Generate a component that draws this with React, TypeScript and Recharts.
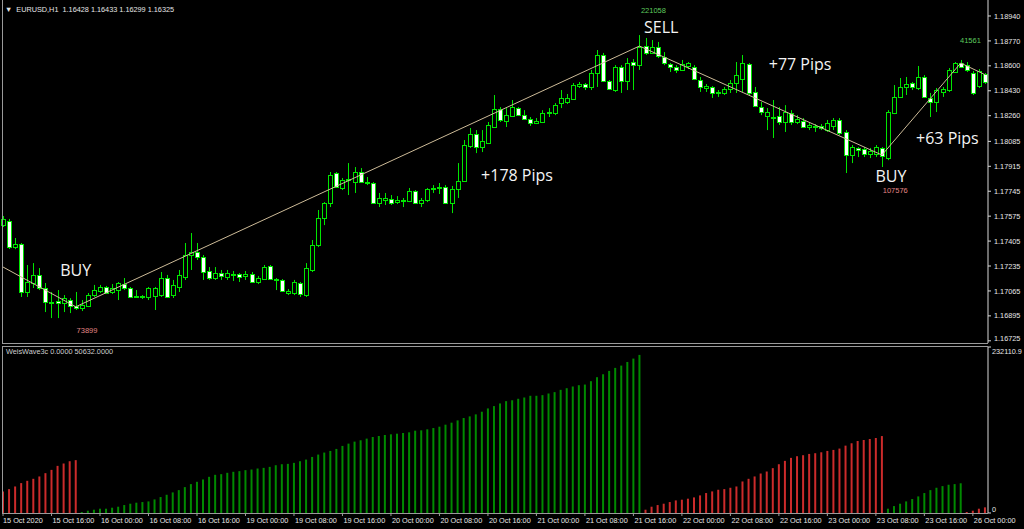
import React from "react";
import { ComposedChart, Bar, Line, XAxis, YAxis, ReferenceDot, Cell } from "recharts";

type OHLC = [number, number, number, number]; // open, high, low, close

// H1 candles, one array per trading day
const oct15: OHLC[] = [
  [1.17514, 1.17576, 1.17501, 1.17556], [1.17542, 1.17556, 1.17351, 1.17364], [1.17364, 1.17426, 1.1735, 1.17385],
  [1.17385, 1.17392, 1.17024, 1.17058], [1.17058, 1.17242, 1.17024, 1.17126], [1.17119, 1.17255, 1.17085, 1.17174],
  [1.17174, 1.17221, 1.17071, 1.17085], [1.17085, 1.17119, 1.16921, 1.16989], [1.16989, 1.17058, 1.1688, 1.16982],
  [1.16996, 1.17071, 1.1688, 1.16982], [1.16982, 1.17037, 1.16921, 1.17016], [1.17003, 1.17016, 1.16914, 1.16962],
  [1.16962, 1.17058, 1.16935, 1.16948], [1.16948, 1.17003, 1.16928, 1.16969], [1.16962, 1.17051, 1.16955, 1.17037],
  [1.17037, 1.17106, 1.17024, 1.17071],
];
const oct16: OHLC[] = [
  [1.17065, 1.17106, 1.17051, 1.17092], [1.17092, 1.17099, 1.17044, 1.17051], [1.17058, 1.17112, 1.17044, 1.17085],
  [1.17071, 1.17126, 1.17003, 1.17119], [1.17112, 1.17153, 1.17071, 1.17085], [1.17085, 1.17092, 1.17017, 1.17024],
  [1.1703, 1.17071, 1.17017, 1.17024], [1.17024, 1.17037, 1.1701, 1.1703], [1.17024, 1.17092, 1.17003, 1.17085],
  [1.1703, 1.17092, 1.16935, 1.17085], [1.17037, 1.17194, 1.17024, 1.17153], [1.17153, 1.17174, 1.17017, 1.17024],
  [1.17037, 1.1714, 1.17017, 1.17106], [1.17092, 1.17208, 1.17058, 1.17174], [1.1716, 1.17392, 1.1714, 1.1731],
  [1.1731, 1.1746, 1.17208, 1.1733], [1.1733, 1.17392, 1.17276, 1.17296], [1.17296, 1.1731, 1.1714, 1.17194],
  [1.17201, 1.17228, 1.1714, 1.17153], [1.17153, 1.17228, 1.1714, 1.17187], [1.17187, 1.17208, 1.1714, 1.17167],
  [1.1716, 1.17208, 1.1714, 1.17187], [1.1718, 1.17201, 1.17133, 1.17174], [1.1718, 1.17187, 1.17126, 1.1716],
];
const oct19: OHLC[] = [
  [1.17167, 1.17201, 1.1714, 1.1718], [1.1718, 1.17194, 1.17119, 1.17126], [1.17126, 1.17167, 1.17112, 1.17153],
  [1.17146, 1.17242, 1.1714, 1.17228], [1.17235, 1.17242, 1.1714, 1.17146], [1.17146, 1.17153, 1.17071, 1.1714],
  [1.1714, 1.17146, 1.17058, 1.17065], [1.17051, 1.17078, 1.17037, 1.17065], [1.17051, 1.1714, 1.17037, 1.17126],
  [1.17119, 1.17126, 1.17024, 1.17044], [1.17037, 1.17255, 1.17024, 1.17221], [1.17208, 1.17412, 1.17194, 1.17378],
  [1.17378, 1.17617, 1.17364, 1.17562], [1.17562, 1.17671, 1.17514, 1.17665], [1.17665, 1.17876, 1.17637, 1.17855],
  [1.17869, 1.17876, 1.17767, 1.17774], [1.17767, 1.17835, 1.17753, 1.17821], [1.17821, 1.17937, 1.17719, 1.17828],
  [1.17808, 1.1791, 1.17733, 1.17876], [1.17876, 1.17903, 1.17801, 1.17808], [1.17808, 1.17842, 1.17787, 1.17801],
  [1.17801, 1.17808, 1.17658, 1.17665], [1.17665, 1.17733, 1.17637, 1.17699], [1.17685, 1.17733, 1.17651, 1.17699],
];
const oct20: OHLC[] = [
  [1.17692, 1.17719, 1.17651, 1.17665], [1.17671, 1.17712, 1.17658, 1.17685], [1.17685, 1.17699, 1.17637, 1.1768],
  [1.17678, 1.17767, 1.17671, 1.17746], [1.17746, 1.17753, 1.17658, 1.17665], [1.17665, 1.17699, 1.17637, 1.17685],
  [1.17685, 1.17767, 1.17671, 1.1776], [1.1776, 1.17787, 1.17733, 1.17767], [1.17767, 1.17801, 1.17726, 1.17774],
  [1.17774, 1.17787, 1.17658, 1.17665], [1.17665, 1.17781, 1.17596, 1.1776], [1.1776, 1.17937, 1.17699, 1.17815],
  [1.17815, 1.18094, 1.17808, 1.1806], [1.18053, 1.18176, 1.1804, 1.18135], [1.18135, 1.18162, 1.18005, 1.18046],
  [1.18046, 1.18162, 1.18012, 1.18087], [1.18074, 1.18217, 1.18067, 1.18197], [1.18183, 1.18401, 1.18176, 1.18306],
  [1.18306, 1.18319, 1.18217, 1.18231], [1.18224, 1.18312, 1.18183, 1.18264], [1.18258, 1.18367, 1.18251, 1.18319],
  [1.18312, 1.18319, 1.18258, 1.18264], [1.18264, 1.18298, 1.18231, 1.18237], [1.18237, 1.18251, 1.1819, 1.1821],
];
const oct21: OHLC[] = [
  [1.1821, 1.18244, 1.18203, 1.18224], [1.18217, 1.18298, 1.1821, 1.18278], [1.18278, 1.18312, 1.18251, 1.18285],
  [1.18278, 1.18346, 1.18264, 1.18332], [1.18346, 1.18435, 1.18312, 1.1838], [1.18353, 1.18408, 1.1834, 1.1838],
  [1.18374, 1.18483, 1.18367, 1.18469], [1.18462, 1.1849, 1.18449, 1.18476], [1.18476, 1.18483, 1.18435, 1.18456],
  [1.18456, 1.18572, 1.18435, 1.18551], [1.18551, 1.18708, 1.18456, 1.18674], [1.18674, 1.18688, 1.1849, 1.18497],
  [1.18497, 1.18503, 1.18435, 1.18442], [1.18435, 1.18605, 1.18422, 1.18592], [1.18592, 1.18605, 1.18415, 1.18497],
  [1.18497, 1.18653, 1.18435, 1.18619], [1.18626, 1.18646, 1.18435, 1.18605], [1.18605, 1.1881, 1.18572, 1.18728],
  [1.18735, 1.1879, 1.18674, 1.18688], [1.18688, 1.18776, 1.18681, 1.18728], [1.18728, 1.18763, 1.18653, 1.18667],
  [1.1866, 1.18694, 1.18605, 1.18619], [1.18612, 1.18619, 1.18558, 1.18592], [1.18592, 1.18605, 1.18551, 1.18572],
];
const oct22: OHLC[] = [
  [1.18572, 1.1864, 1.18565, 1.18612], [1.18599, 1.18626, 1.18578, 1.18619], [1.18592, 1.18605, 1.18503, 1.1851],
  [1.18503, 1.18524, 1.18422, 1.18456], [1.18449, 1.18476, 1.18422, 1.18462], [1.18456, 1.18462, 1.18381, 1.18415],
  [1.18415, 1.18435, 1.18388, 1.18422], [1.18415, 1.18456, 1.18401, 1.18442], [1.18442, 1.18503, 1.18415, 1.18483],
  [1.18483, 1.18626, 1.18415, 1.18537], [1.1851, 1.18674, 1.18422, 1.18619], [1.18612, 1.18619, 1.18401, 1.18415],
  [1.18422, 1.18456, 1.18319, 1.18326], [1.18319, 1.18353, 1.18264, 1.18285], [1.18258, 1.18312, 1.18162, 1.18285],
  [1.18251, 1.18367, 1.18108, 1.18244], [1.18258, 1.18319, 1.18197, 1.18217], [1.18217, 1.18332, 1.18149, 1.18285],
  [1.18278, 1.18298, 1.18197, 1.18217], [1.18217, 1.18264, 1.18203, 1.18237], [1.18224, 1.18244, 1.18176, 1.18183],
  [1.18183, 1.1821, 1.18162, 1.18197], [1.18183, 1.18203, 1.18149, 1.1819], [1.1819, 1.18203, 1.18162, 1.18176],
];
const oct23: OHLC[] = [
  [1.18162, 1.18231, 1.18149, 1.1821], [1.1819, 1.18244, 1.18162, 1.18231], [1.18231, 1.18244, 1.18128, 1.18142],
  [1.18149, 1.18162, 1.17869, 1.17991], [1.17991, 1.1806, 1.17937, 1.18046], [1.1804, 1.18046, 1.17978, 1.18026],
  [1.18033, 1.18046, 1.17978, 1.17998], [1.17998, 1.1804, 1.17971, 1.18019], [1.17998, 1.1806, 1.17978, 1.18046],
  [1.1804, 1.18046, 1.1791, 1.17985], [1.17971, 1.18298, 1.17957, 1.18285], [1.18278, 1.18469, 1.18271, 1.18387],
  [1.18387, 1.18517, 1.18381, 1.18456], [1.18456, 1.18524, 1.18401, 1.18476], [1.18483, 1.1849, 1.18435, 1.18456],
  [1.18449, 1.18599, 1.18435, 1.18524], [1.18524, 1.18537, 1.18381, 1.18387], [1.18381, 1.18415, 1.18251, 1.18353],
  [1.18353, 1.18449, 1.18285, 1.18435], [1.18422, 1.18456, 1.18388, 1.18442], [1.18435, 1.18585, 1.18422, 1.18572],
  [1.18558, 1.18626, 1.18551, 1.18619], [1.18619, 1.1864, 1.18585, 1.18592], [1.18605, 1.18626, 1.18558, 1.18572],
];
const oct26: OHLC[] = [
  [1.18551, 1.18565, 1.18401, 1.18415], [1.18462, 1.18578, 1.18449, 1.18565], [1.18544, 1.18551, 1.18476, 1.1849],
];

const days = ["15 Oct", "16 Oct", "19 Oct", "20 Oct", "21 Oct", "22 Oct", "23 Oct", "26 Oct"];
const dayBars = [oct15, oct16, oct19, oct20, oct21, oct22, oct23, oct26];
const firstHour = [8, 0, 0, 0, 0, 0, 0, 0];

// WeisWave3c cumulative volume per wave
const weisDown1 = [30200, 33400, 37100, 41800, 45000, 47800, 51100, 55700, 60300, 65900, 69200, 72400, 73899];
const weisUp1 = [
  1400, 3200, 4600, 6000, 6000, 7400, 8800, 11100, 13000, 14400, 15300, 16200, 19000, 22300, 25500, 28800, 32000,
  36200, 40400, 43600, 46900, 50600, 53400, 54300, 56200, 57600, 58500, 59900, 60800, 62200, 63100, 64500, 66800,
  68200, 68700, 70100, 72400, 74700, 78400, 81700, 84500, 86800, 89600, 93800, 97000, 99800, 101700, 104000, 106300,
  107700, 109100, 110000, 110900, 111900, 112800, 115100, 115600, 117000, 118800, 120700, 123500, 126300, 129500,
  132800, 135100, 137900, 141600, 146200, 149500, 153200, 156400, 157800, 159700, 161500, 163900, 163900, 164800,
  167100, 169000, 172200, 174500, 176900, 178700, 179600, 184300, 189900, 194000, 198700, 202900, 206100, 211200,
  215900, 221058,
];
const weisDown2 = [
  4600, 8800, 11100, 13000, 15300, 17600, 18600, 20000, 21800, 24600, 27900, 30200, 32500, 33400, 35300, 37100,
  44100, 47800, 51100, 55200, 58000, 62700, 68200, 72900, 77100, 79400, 80800, 82600, 83600, 84900, 86800, 88200,
  90100, 94200, 97500, 100700, 102100, 103500, 104900, 107576,
];
const weisUp2 = [6000, 9700, 13000, 16200, 19500, 23200, 27900, 32000, 35300, 37600, 39500, 40400, 41561];
const weisDown3 = [1400, 3200, 6000, 7900];

// zigzag pivots: bar index, price
const zigzag: [number, number][] = [
  [0, 1.17228], [12, 1.16957], [105, 1.18735], [145, 1.17992], [158, 1.18619], [162, 1.1854],
];

const priceTicks = [
  1.1894, 1.1877, 1.186, 1.1843, 1.1826, 1.18085, 1.17915, 1.17745, 1.17575, 1.17405, 1.17235, 1.17065, 1.16895, 1.16725,
];
const weisMax = 232110.9;

const tradeLabels = [
  { i: 12, p: 1.17204, text: "BUY" },
  { i: 84.8, p: 1.17856, text: "+178 Pips" },
  { i: 108.6, p: 1.18865, text: "SELL" },
  { i: 131.5, p: 1.18609, text: "+77 Pips" },
  { i: 146.5, p: 1.1785, text: "BUY" },
  { i: 155.8, p: 1.18104, text: "+63 Pips" },
];
const waveLabels = [
  { i: 13.85, p: 1.16798, value: weisDown1[weisDown1.length - 1], up: false },
  { i: 107.3, p: 1.18978, value: weisUp1[weisUp1.length - 1], up: true },
  { i: 147.2, p: 1.17748, value: weisDown2[weisDown2.length - 1], up: false },
  { i: 159.6, p: 1.18776, value: weisUp2[weisUp2.length - 1], up: true },
];

type Row = { i: number; time: string; open: number; high: number; low: number; close: number; zz?: number };

const candles: Row[] = [];
dayBars.forEach((bars, d) =>
  bars.forEach((b, k) => {
    const h = firstHour[d] + k;
    candles.push({
      i: candles.length,
      time: `${days[d]} ${String(h).padStart(2, "0")}:00`,
      open: b[0],
      high: b[1],
      low: b[2],
      close: b[3],
    });
  })
);
zigzag.forEach(([i, p]) => (candles[i].zz = p));

const waves = [
  { up: false, values: weisDown1 },
  { up: true, values: weisUp1 },
  { up: false, values: weisDown2 },
  { up: true, values: weisUp2 },
  { up: false, values: weisDown3 },
];
const weis: { i: number; vol: number; up: boolean }[] = [];
waves.forEach((w) => w.values.forEach((v) => weis.push({ i: weis.length, vol: v, up: w.up })));

const timeTicks = candles.filter((c) => c.i % 8 === 0).map((c) => c.i);

const LIME = "#00e600";
const SMALL = '"Liberation Sans", Arial, sans-serif';
const TXT = "#e6e6e6";
const FRAME = "#9a9a9a";
const X_DOMAIN: [number, number] = [-0.5, 162.5];

const CandleShape = (props: any) => {
  const { x, y, width, height, payload } = props;
  if (x == null || !payload) return null;
  const top = Math.min(y, y + height);
  const bot = Math.max(y, y + height);
  const span = payload.high - payload.low || 1e-9;
  const toY = (p: number) => top + ((payload.high - p) / span) * (bot - top);
  const cx = Math.floor(x + width / 2) + 0.5;
  const yo = toY(payload.open);
  const yc = toY(payload.close);
  const bull = payload.close >= payload.open;
  const b1 = Math.round(Math.min(yo, yc)) + 0.5;
  const b2 = Math.round(Math.max(yo, yc)) + 0.5;
  return (
    <g>
      <line x1={cx} x2={cx} y1={top} y2={bot} stroke={LIME} strokeWidth={1} />
      {b2 - b1 < 1 ? (
        <line x1={cx - 2.5} x2={cx + 2.5} y1={b1} y2={b1} stroke={LIME} strokeWidth={1} />
      ) : (
        <rect x={cx - 2} y={b1} width={4} height={b2 - b1} fill={bull ? "#000" : "#fff"} stroke={LIME} strokeWidth={1} />
      )}
    </g>
  );
};

const TimeTick = (props: any) => {
  const { x, y, payload } = props;
  const i = payload.value as number;
  const label = i === 0 ? "15 Oct 2020" : candles[i].time;
  return (
    <text x={i === 0 ? x : x + 1} y={y} dy="0.72em" fill={TXT} fontSize={7.3} fontFamily={SMALL} textAnchor="start">
      {label}
    </text>
  );
};

const WeisTick = (props: any) => {
  const { x, y, payload } = props;
  const isTop = payload.value > 0;
  return (
    <text x={x} y={isTop ? y + 4 : y - 4} dy="0.36em" fill={TXT} fontSize={7.3} fontFamily={SMALL} textAnchor="start">
      {isTop ? weisMax.toFixed(1) : "0"}
    </text>
  );
};

const line = (style: React.CSSProperties) => (
  <div style={{ position: "absolute", background: FRAME, ...style }} />
);

export default function App() {
  return (
    <div style={{ position: "fixed", left: 0, top: 0, width: 1024, height: 529, background: "#000", overflow: "hidden" }}>
      <div style={{ position: "absolute", left: 0, top: 0 }}>
        <ComposedChart width={1024} height={343} data={candles} margin={{ top: 0, right: 0, bottom: 0, left: 0 }}>
          <XAxis dataKey="i" type="number" domain={X_DOMAIN} allowDataOverflow hide />
          <YAxis
            orientation="right"
            width={36}
            domain={[1.1671, 1.19049]}
            allowDataOverflow
            ticks={priceTicks}
            tickFormatter={(v: number) => v.toFixed(5)}
            tickSize={3}
            tickMargin={3}
            axisLine={{ stroke: "#d8d8d8" }}
            tickLine={{ stroke: "#d8d8d8" }}
            tick={{ fill: TXT, fontSize: 7.3, fontFamily: SMALL, textAnchor: "start" }}
          />
          <Bar
            dataKey={(d: Row) => [d.low, d.high]}
            barSize={5}
            shape={CandleShape}
            activeBar={false}
            isAnimationActive={false}
          />
          <Line
            dataKey="zz"
            type="linear"
            stroke="#cdbb98"
            strokeWidth={1}
            dot={false}
            activeDot={false}
            connectNulls
            isAnimationActive={false}
          />
          {tradeLabels.map((a, k) => (
            <ReferenceDot
              key={"t" + k}
              x={a.i}
              y={a.p}
              r={0}
              ifOverflow="visible"
              shape={(sp: any) => (
                <text
                  x={sp.cx}
                  y={sp.cy}
                  dy="0.36em"
                  textAnchor="middle"
                  fill="#f4f4f4"
                  fontSize={16}
                  fontFamily='"Open Sans", sans-serif'
                >
                  {a.text}
                </text>
              )}
            />
          ))}
          {waveLabels.map((a, k) => (
            <ReferenceDot
              key={"w" + k}
              x={a.i}
              y={a.p}
              r={0}
              ifOverflow="visible"
              shape={(sp: any) => (
                <text
                  x={sp.cx}
                  y={sp.cy}
                  dy="0.36em"
                  textAnchor="middle"
                  fill={a.up ? "#5ecb5e" : "#e08585"}
                  fontSize={7.5}
                  fontFamily={SMALL}
                >
                  {a.value}
                </text>
              )}
            />
          ))}
        </ComposedChart>
      </div>

      <div style={{ position: "absolute", left: 0, top: 346 }}>
        <ComposedChart width={1024} height={183} data={weis} margin={{ top: 1, right: 0, bottom: 0, left: 0 }}>
          <XAxis
            dataKey="i"
            type="number"
            domain={X_DOMAIN}
            allowDataOverflow
            ticks={timeTicks}
            interval={0}
            height={16}
            axisLine={false}
            tickSize={3}
            tickMargin={2}
            tickLine={{ stroke: FRAME }}
            tick={TimeTick}
          />
          <YAxis
            orientation="right"
            width={36}
            domain={[0, weisMax]}
            allowDataOverflow
            ticks={[0, weisMax]}
            interval={0}
            tickSize={3}
            tickMargin={1}
            axisLine={{ stroke: "#d8d8d8" }}
            tickLine={{ stroke: "#d8d8d8" }}
            tick={WeisTick}
          />
          <Bar dataKey="vol" barSize={2} activeBar={false} isAnimationActive={false}>
            {weis.map((w) => (
              <Cell key={w.i} fill={w.up ? "#008a00" : "#cc2b2b"} />
            ))}
          </Bar>
        </ComposedChart>
      </div>

      {line({ left: 2, top: 0, width: 1, height: 344 })}
      {line({ left: 2, top: 343, width: 986, height: 1 })}
      {line({ left: 2, top: 346, width: 1, height: 168 })}
      {line({ left: 2, top: 346, width: 986, height: 1 })}
      {line({ left: 2, top: 513, width: 986, height: 1 })}

      <div
        style={{
          position: "absolute",
          left: 5,
          top: 5,
          color: TXT,
          fontFamily: SMALL,
          fontSize: 7.3,
          whiteSpace: "pre",
          lineHeight: "10px",
        }}
      >
        {"\u25BC  EURUSD,H1  1.16428 1.16433 1.16299 1.16325"}
      </div>
      <div
        style={{
          position: "absolute",
          left: 6,
          top: 347,
          color: "#cfcfcf",
          fontFamily: SMALL,
          fontSize: 7.3,
          whiteSpace: "pre",
          lineHeight: "10px",
        }}
      >
        {"WeisWave3c 0.0000 50632.0000"}
      </div>
    </div>
  );
}
